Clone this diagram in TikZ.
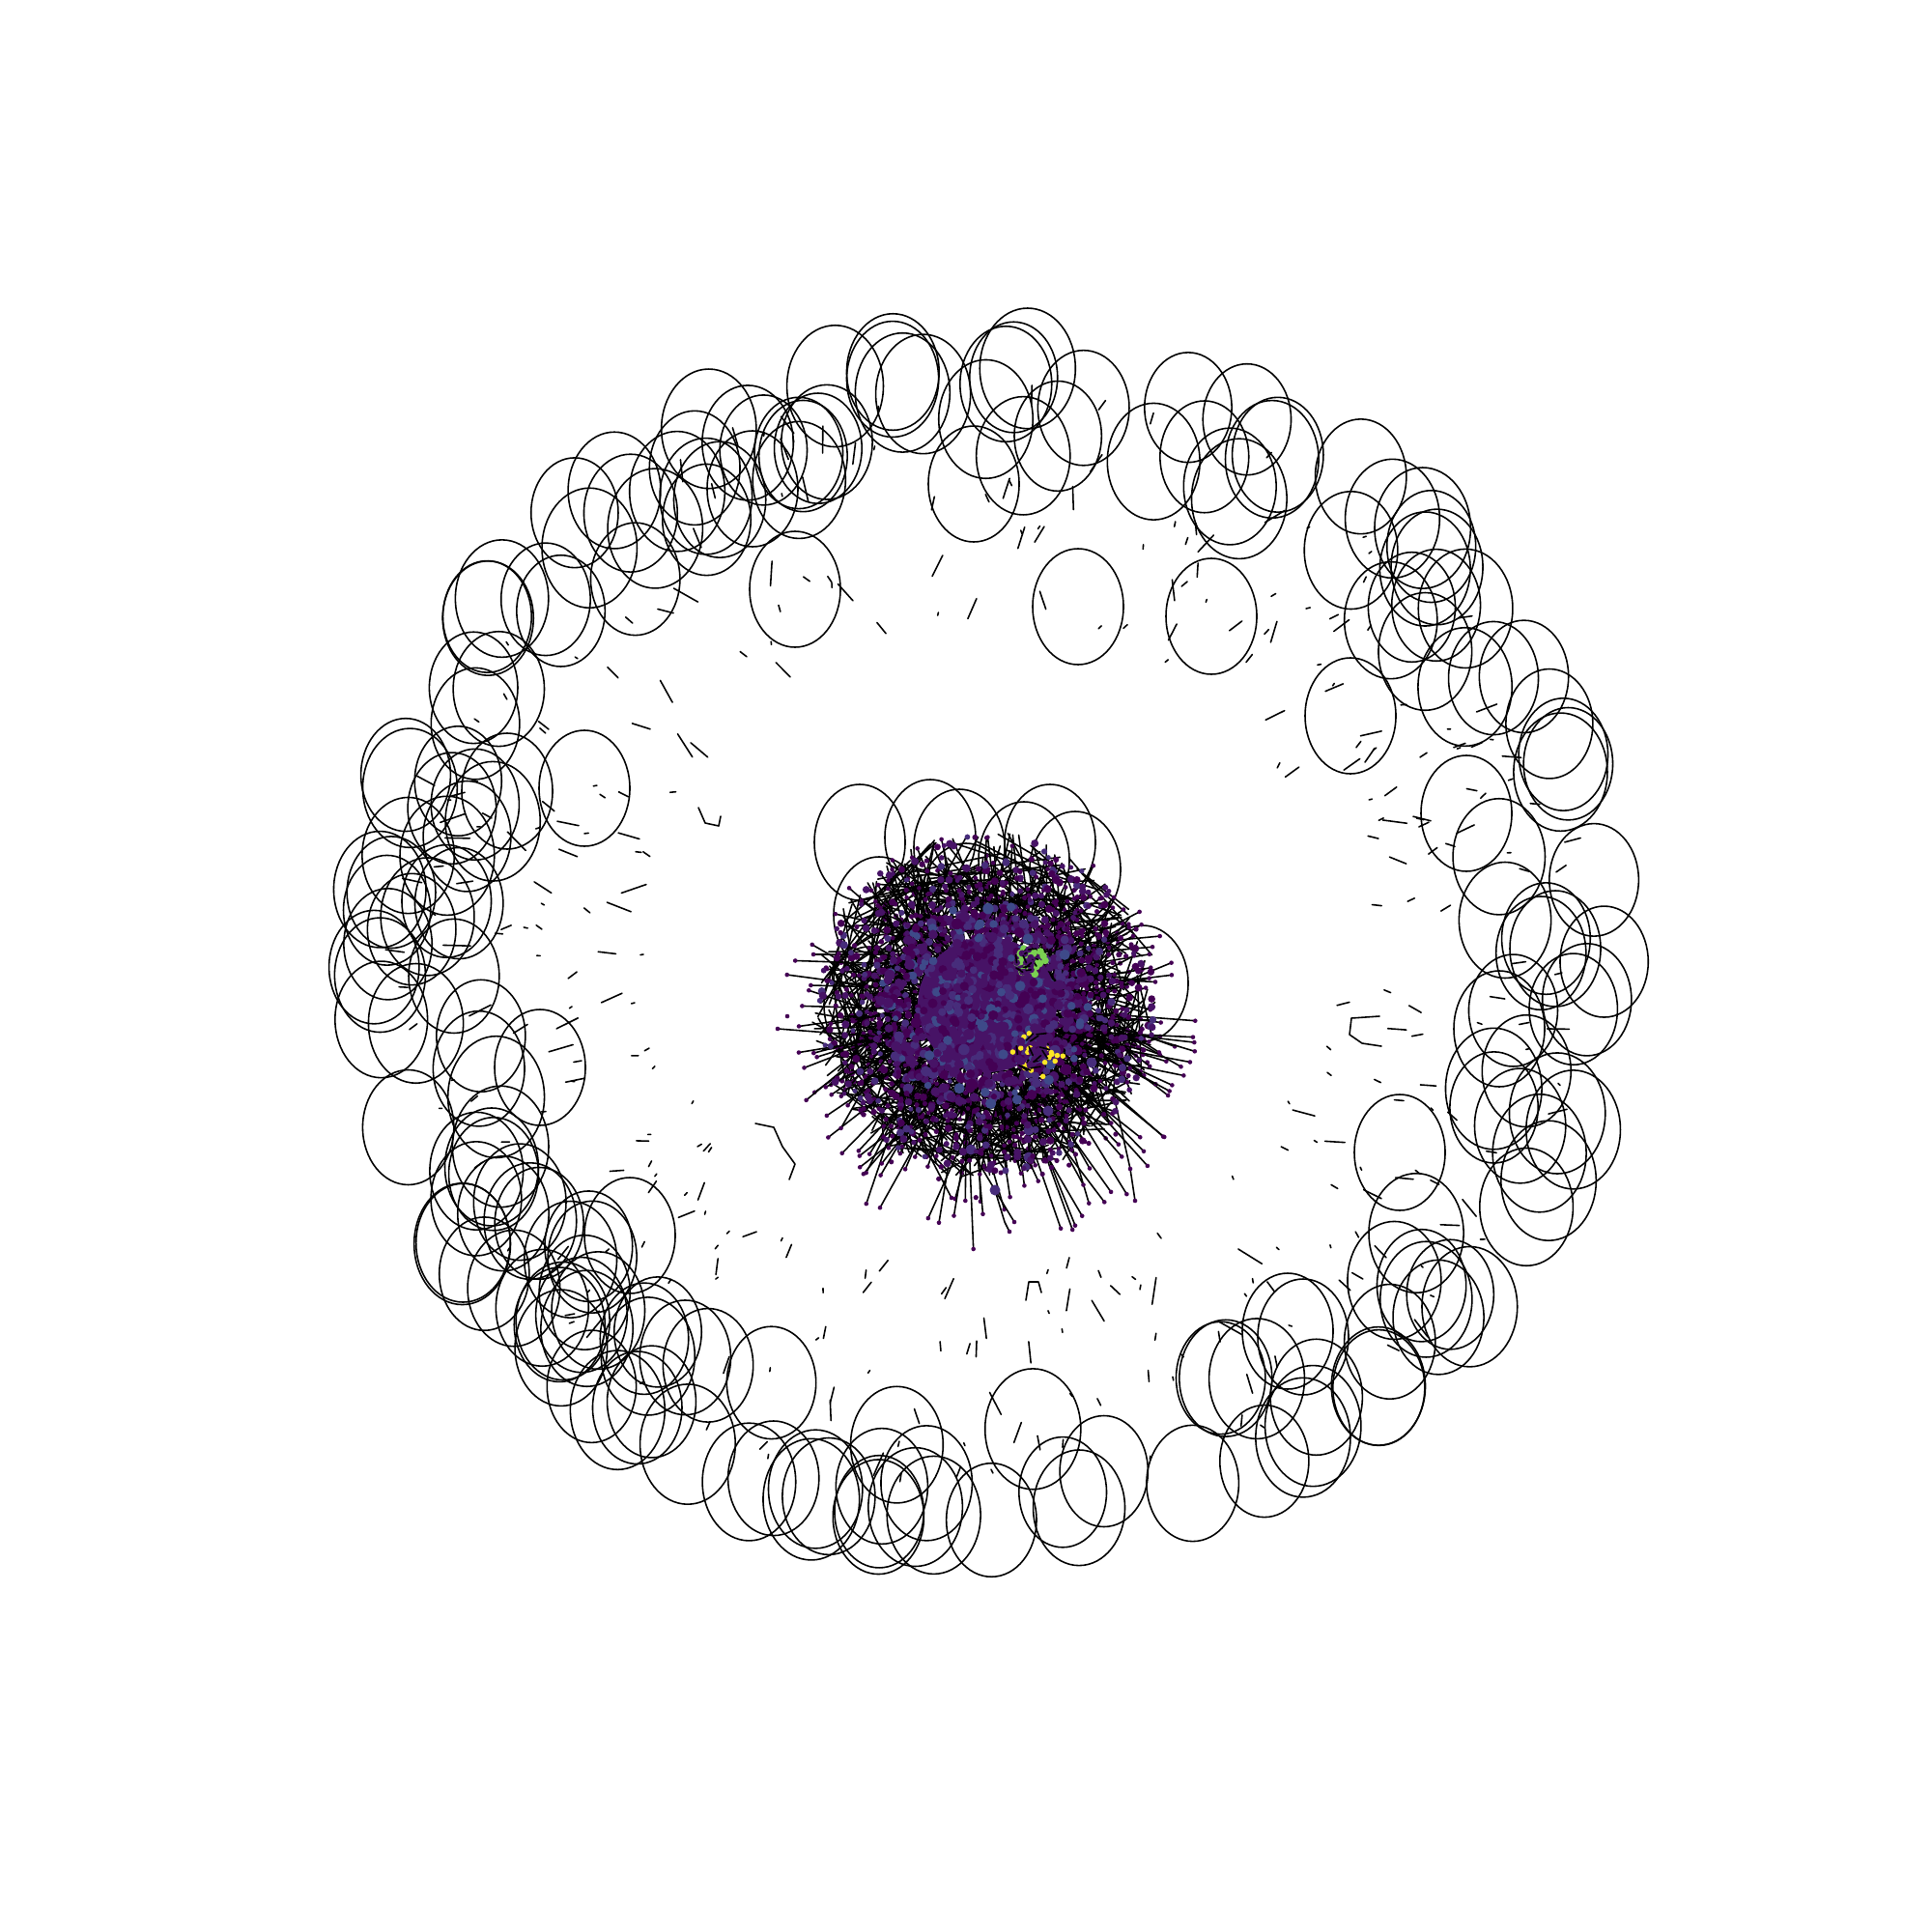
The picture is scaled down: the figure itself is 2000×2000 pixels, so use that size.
\documentclass[tikz,border=0pt]{standalone}
\usepackage{tikz}
\definecolor{vdark}{HTML}{440154}
\definecolor{vplum}{HTML}{471366}
\definecolor{vpurple}{HTML}{472D7B}
\definecolor{vblue}{HTML}{3E4A89}
\definecolor{vgreen}{HTML}{7AD151}
\definecolor{vyellow}{HTML}{FDE725}

\begin{document}
\begin{tikzpicture}[x=0.01cm,y=-0.01cm,line cap=round,line join=round,
    selfloop/.style={line width=0.45pt,black},
    edge/.style={line width=0.45pt,black},
    tipdot/.style={fill=vdark}]
\useasboundingbox (0,0) rectangle (2000,2000);
\pgfmathsetseed{2024}
%% outer ring of self-loops
\foreach \i in {1,...,180}{
  \pgfmathsetmacro\a{rnd*360}
  \pgfmathsetmacro\f{1-0.17*rnd^1.4}
  \pgfmathsetmacro\w{45+5*rnd}
  \draw[selfloop] ({1025+640*\f*cos(\a)},{977+605*\f*sin(\a)}) ellipse ({\w} and {\w*1.26});
}
%% loose self-loops inside the ring
\foreach \p in {(1116,628),(1254,638),(1398,741),(525,819),(605,816),(559,1105),
  (652,1279),(1449,1193),(823,610),(779,506),(1333,1378),(1349,1384),(1518,842),
  (1008,501),(1552,1065),(1610,982)}
  \draw[selfloop] \p ellipse (47 and 60);
%% short edges between ring and centre
\foreach \i in {1,...,330}{
  \pgfmathsetmacro\a{rnd*360}
  \pgfmathsetmacro\f{0.55+0.4*rnd}
  \pgfmathsetmacro\l{3+26*rnd^2}
  \pgfmathsetmacro\b{\a+70*(rnd-0.5)}
  \draw[edge] ({1025+640*\f*cos(\a)},{977+605*\f*sin(\a)}) -- ++({\l*cos(\b)},{\l*sin(\b)});
}
\draw[edge] (723,836) -- (730,852) -- (744,855) -- (746,845);
\draw[edge] (1428,1052) -- (1399,1054) -- (1397,1071) -- (1410,1080) -- (1430,1083);
\draw[edge] (782,1163) -- (801,1167) -- (810,1187) -- (823,1205) -- (817,1221);
\draw[edge] (1062,1346) -- (1065,1327) -- (1075,1327) -- (1078,1338);
\draw[edge] (1124,1035) -- (1148,1028);
%% self-loops on the main component
\foreach \p in {(890,872),(963,867),(993,877),(1087,872),(1113,900),(1183,1018),
  (910,947),(1060,890),(900,1040),(910,1007),(1000,933),(1090,987),(1090,1083),(917,1087)}
  \draw[selfloop] \p ellipse (47 and 60);
%% tangle of edges in the main component
\foreach \i in {1,...,520}{
  \pgfmathsetmacro\a{rnd*360}
  \pgfmathsetmacro\ra{30+150*sqrt(rnd)}
  \pgfmathsetmacro\b{\a+120*(rnd-0.5)}
  \pgfmathsetmacro\rb{70+110*rnd}
  \pgfmathsetmacro\xa{1020+\ra*cos(\a)}
  \pgfmathsetmacro\ya{1040+\ra*sin(\a)}
  \pgfmathsetmacro\xb{1020+\rb*cos(\b)}
  \pgfmathsetmacro\yb{1040+\rb*sin(\b)}
  \draw[edge] (\xa,\ya) -- (\xb,\yb);
}
%% spokes of the main component
\foreach \i in {1,...,520}{
  \pgfmathsetmacro\a{rnd*360}
  \pgfmathsetmacro\ra{110*sqrt(rnd)}
  \pgfmathsetmacro\b{\a+40*(rnd-0.5)}
  \pgfmathsetmacro\rb{(90+125*rnd^1.7)*(1+0.18*sin(\b))}
  \pgfmathsetmacro\xb{1020+\rb*cos(\b)}
  \pgfmathsetmacro\yb{1040+\rb*sin(\b)}
  \pgfmathsetmacro\xm{1020+(0.35*\ra+0.65*\rb)*cos(\b)}
  \pgfmathsetmacro\ym{1040+(0.35*\ra+0.65*\rb)*sin(\b)}
  \draw[edge] ({1020+\ra*cos(\a)},{1040+\ra*sin(\a)}) -- (\xb,\yb);
  \fill[tipdot] (\xb,\yb) circle (2.3);
  \fill[tipdot] (\xm,\ym) circle (2.6);
}
%% long chains at the bottom
\draw[edge] (1005,1190) -- (1030,1232) -- (1040,1265) -- (1045,1275);
\draw[edge] (1030,1232) -- (1050,1265);
\draw[edge] (1155,1143) -- (1170,1210) -- (1175,1243);
\draw[edge] (940,1127) -- (960,1192) -- (985,1240);
\draw[edge] (805,1065) -- (1000,1080);
\foreach \p in {(1045,1275),(1050,1265),(1175,1243),(1170,1210),(985,1240),(805,1065),(815,1052)}
  \fill[tipdot] \p circle (2.3);
\foreach \p in {(1005,1190),(1030,1232),(1065,1198),(940,1127),(1085,1150),(1065,1170),(1130,1100)}
  \fill[vpurple] \p circle (5.5);
%% nodes round the core
\foreach \i in {1,...,650}{
  \pgfmathsetmacro\a{rnd*360}
  \pgfmathsetmacro\r{80+95*rnd^1.3}
  \pgfmathsetmacro\s{2.4+1.8*rnd}
  \pgfmathsetmacro\c{{"vdark","vplum","vdark","vplum","vpurple"}[int(5*rnd)]}
  \fill[\c] ({1020+\r*cos(\a)},{1040+\r*sin(\a)}) circle (\s);
}
%% core nodes
\fill[vplum] (1022,1040) ellipse (72 and 70);
\foreach \i in {1,...,750}{
  \pgfmathsetmacro\a{rnd*360}
  \pgfmathsetmacro\r{110*rnd^0.65}
  \pgfmathsetmacro\s{3+2.8*rnd}
  \pgfmathsetmacro\c{{"vdark","vplum","vplum","vpurple","vdark","vplum","vpurple","vblue"}[int(8*rnd)]}
  \fill[\c] ({1020+\r*cos(\a)},{1040+0.95*\r*sin(\a)}) circle (\s);
}
%% the two small coloured groups
\foreach \i in {1,...,22}{
  \pgfmathsetmacro\a{rnd*360}
  \pgfmathsetmacro\r{6+12*rnd}
  \fill[vgreen] ({1066+\r*cos(\a)},{995+0.8*\r*sin(\a)}) circle (3.8);
  \pgfmathsetmacro\b{rnd*360}
  \pgfmathsetmacro\q{5+22*rnd}
  \fill[vyellow] ({1075+\q*cos(\b)},{1090+\q*sin(\b)}) circle (2.8);
}
\foreach \i in {1,...,12}{
  \pgfmathsetmacro\a{rnd*360}
  \pgfmathsetmacro\r{14*rnd}
  \fill[vplum] ({1066+\r*cos(\a)},{995+\r*sin(\a)}) circle (3.5);
  \fill[vplum] ({1075+1.6*\r*cos(\a+40)},{1090+1.6*\r*sin(\a+40)}) circle (4.5);
  \draw[edge] ({1066+\r*cos(\a)},{995+\r*sin(\a)}) -- ++({8*cos(\a+90)},{8*sin(\a+90)});
  \draw[edge] ({1075+1.6*\r*cos(\a)},{1090+1.6*\r*sin(\a)}) -- ++({10*cos(\a+90)},{10*sin(\a+90)});
}
\end{tikzpicture}
\end{document}
